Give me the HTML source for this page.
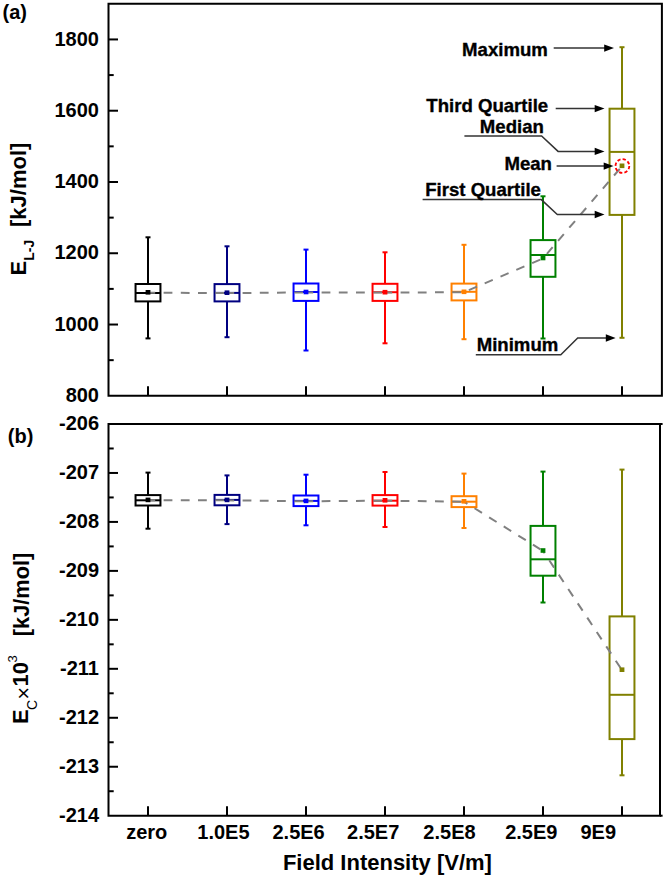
<!DOCTYPE html><html><head><meta charset="utf-8"><style>html,body{margin:0;padding:0;background:#fff;}svg{display:block;font-family:"Liberation Sans",sans-serif;font-weight:bold;}</style></head><body>
<svg width="666" height="878" viewBox="0 0 666 878">
<rect x="0" y="0" width="666" height="878" fill="#fff"/>
<path d="M108.5,3.8 H661.9 V395.8 H108.5 Z" fill="none" stroke="#000" stroke-width="2" stroke-linejoin="miter"/>
<path d="M108.5,424.0 H660.0 V815.7 H108.5 Z" fill="none" stroke="#000" stroke-width="2" stroke-linejoin="miter"/>
<line x1="660.0" y1="424.0" x2="662.6" y2="424.0" stroke="#000" stroke-width="2"/>
<line x1="660.0" y1="815.7" x2="662.6" y2="815.7" stroke="#000" stroke-width="2"/>
<line x1="108.5" y1="360.16" x2="113.7" y2="360.16" stroke="#000" stroke-width="2"/>
<line x1="108.5" y1="324.53" x2="118.0" y2="324.53" stroke="#000" stroke-width="2"/>
<line x1="108.5" y1="288.89" x2="113.7" y2="288.89" stroke="#000" stroke-width="2"/>
<line x1="108.5" y1="253.25" x2="118.0" y2="253.25" stroke="#000" stroke-width="2"/>
<line x1="108.5" y1="217.62" x2="113.7" y2="217.62" stroke="#000" stroke-width="2"/>
<line x1="108.5" y1="181.98" x2="118.0" y2="181.98" stroke="#000" stroke-width="2"/>
<line x1="108.5" y1="146.35" x2="113.7" y2="146.35" stroke="#000" stroke-width="2"/>
<line x1="108.5" y1="110.71" x2="118.0" y2="110.71" stroke="#000" stroke-width="2"/>
<line x1="108.5" y1="75.07" x2="113.7" y2="75.07" stroke="#000" stroke-width="2"/>
<line x1="108.5" y1="39.44" x2="118.0" y2="39.44" stroke="#000" stroke-width="2"/>
<text x="99.0" y="401.90" font-size="20" text-anchor="end">800</text>
<text x="99.0" y="330.63" font-size="20" text-anchor="end">1000</text>
<text x="99.0" y="259.35" font-size="20" text-anchor="end">1200</text>
<text x="99.0" y="188.08" font-size="20" text-anchor="end">1400</text>
<text x="99.0" y="116.81" font-size="20" text-anchor="end">1600</text>
<text x="99.0" y="45.54" font-size="20" text-anchor="end">1800</text>
<line x1="108.5" y1="448.48" x2="113.7" y2="448.48" stroke="#000" stroke-width="2"/>
<line x1="108.5" y1="472.96" x2="118.0" y2="472.96" stroke="#000" stroke-width="2"/>
<line x1="108.5" y1="497.44" x2="113.7" y2="497.44" stroke="#000" stroke-width="2"/>
<line x1="108.5" y1="521.92" x2="118.0" y2="521.92" stroke="#000" stroke-width="2"/>
<line x1="108.5" y1="546.41" x2="113.7" y2="546.41" stroke="#000" stroke-width="2"/>
<line x1="108.5" y1="570.89" x2="118.0" y2="570.89" stroke="#000" stroke-width="2"/>
<line x1="108.5" y1="595.37" x2="113.7" y2="595.37" stroke="#000" stroke-width="2"/>
<line x1="108.5" y1="619.85" x2="118.0" y2="619.85" stroke="#000" stroke-width="2"/>
<line x1="108.5" y1="644.33" x2="113.7" y2="644.33" stroke="#000" stroke-width="2"/>
<line x1="108.5" y1="668.81" x2="118.0" y2="668.81" stroke="#000" stroke-width="2"/>
<line x1="108.5" y1="693.29" x2="113.7" y2="693.29" stroke="#000" stroke-width="2"/>
<line x1="108.5" y1="717.78" x2="118.0" y2="717.78" stroke="#000" stroke-width="2"/>
<line x1="108.5" y1="742.26" x2="113.7" y2="742.26" stroke="#000" stroke-width="2"/>
<line x1="108.5" y1="766.74" x2="118.0" y2="766.74" stroke="#000" stroke-width="2"/>
<line x1="108.5" y1="791.22" x2="113.7" y2="791.22" stroke="#000" stroke-width="2"/>
<text x="99.0" y="430.10" font-size="20" text-anchor="end">-206</text>
<text x="99.0" y="479.06" font-size="20" text-anchor="end">-207</text>
<text x="99.0" y="528.02" font-size="20" text-anchor="end">-208</text>
<text x="99.0" y="576.99" font-size="20" text-anchor="end">-209</text>
<text x="99.0" y="625.95" font-size="20" text-anchor="end">-210</text>
<text x="99.0" y="674.91" font-size="20" text-anchor="end">-211</text>
<text x="99.0" y="723.88" font-size="20" text-anchor="end">-212</text>
<text x="99.0" y="772.84" font-size="20" text-anchor="end">-213</text>
<text x="99.0" y="821.80" font-size="20" text-anchor="end">-214</text>
<line x1="148" y1="395.8" x2="148" y2="386.3" stroke="#000" stroke-width="2"/>
<line x1="148" y1="815.7" x2="148" y2="806.2" stroke="#000" stroke-width="2"/>
<line x1="227" y1="395.8" x2="227" y2="386.3" stroke="#000" stroke-width="2"/>
<line x1="227" y1="815.7" x2="227" y2="806.2" stroke="#000" stroke-width="2"/>
<line x1="306" y1="395.8" x2="306" y2="386.3" stroke="#000" stroke-width="2"/>
<line x1="306" y1="815.7" x2="306" y2="806.2" stroke="#000" stroke-width="2"/>
<line x1="385" y1="395.8" x2="385" y2="386.3" stroke="#000" stroke-width="2"/>
<line x1="385" y1="815.7" x2="385" y2="806.2" stroke="#000" stroke-width="2"/>
<line x1="464" y1="395.8" x2="464" y2="386.3" stroke="#000" stroke-width="2"/>
<line x1="464" y1="815.7" x2="464" y2="806.2" stroke="#000" stroke-width="2"/>
<line x1="543" y1="395.8" x2="543" y2="386.3" stroke="#000" stroke-width="2"/>
<line x1="543" y1="815.7" x2="543" y2="806.2" stroke="#000" stroke-width="2"/>
<line x1="622" y1="395.8" x2="622" y2="386.3" stroke="#000" stroke-width="2"/>
<line x1="622" y1="815.7" x2="622" y2="806.2" stroke="#000" stroke-width="2"/>
<text x="146.75" y="839" font-size="20" text-anchor="middle">zero</text>
<text x="223.4" y="839" font-size="20" text-anchor="middle">1.0E5</text>
<text x="298.6" y="839" font-size="20" text-anchor="middle">2.5E6</text>
<text x="373.2" y="839" font-size="20" text-anchor="middle">2.5E7</text>
<text x="449.5" y="839" font-size="20" text-anchor="middle">2.5E8</text>
<text x="531.3" y="839" font-size="20" text-anchor="middle">2.5E9</text>
<text x="598.3" y="839" font-size="20" text-anchor="middle">9E9</text>
<text x="387.4" y="869.5" font-size="22" text-anchor="middle">Field Intensity [V/m]</text>
<text x="2.5" y="18.5" font-size="20">(a)</text>
<text x="7.8" y="442.5" font-size="20">(b)</text>
<text transform="translate(26.0,275.4) rotate(-90)" font-size="22" font-weight="bold" >E</text>
<text transform="translate(33.5,260.8) rotate(-90)" font-size="14" font-weight="bold" >L-J</text>
<text transform="translate(26.0,227.0) rotate(-90)" font-size="22" font-weight="bold" >[kJ/mol]</text>
<text transform="translate(28.0,724.0) rotate(-90)" font-size="22" font-weight="bold" >E</text>
<text transform="translate(36.7,710.0) rotate(-90)" font-size="14" font-weight="normal" >C</text>
<text transform="translate(30.8,699.5) rotate(-90)" font-size="21.5" font-weight="normal" >&#215;</text>
<text transform="translate(28.0,686.4) rotate(-90)" font-size="22" font-weight="bold" >10</text>
<text transform="translate(16.6,662.5) rotate(-90)" font-size="13" font-weight="normal" >3</text>
<text transform="translate(28.5,636.2) rotate(-90)" font-size="21.8" font-weight="bold" >[kJ/mol]</text>
<g stroke="#000000" stroke-width="2" fill="none"><line x1="148" y1="237.3" x2="148" y2="284.0"/><line x1="148" y1="301.4" x2="148" y2="338.4"/><line x1="145.5" y1="237.3" x2="150.5" y2="237.3"/><line x1="145.5" y1="338.4" x2="150.5" y2="338.4"/><rect x="135.55" y="284.0" width="24.9" height="17.40"/><line x1="135.55" y1="293.0" x2="160.45" y2="293.0"/></g>
<g stroke="#000080" stroke-width="2" fill="none"><line x1="227" y1="246.3" x2="227" y2="284.1"/><line x1="227" y1="301.4" x2="227" y2="337.2"/><line x1="224.5" y1="246.3" x2="229.5" y2="246.3"/><line x1="224.5" y1="337.2" x2="229.5" y2="337.2"/><rect x="214.55" y="284.1" width="24.9" height="17.30"/><line x1="214.55" y1="292.9" x2="239.45" y2="292.9"/></g>
<g stroke="#0000ff" stroke-width="2" fill="none"><line x1="306" y1="249.6" x2="306" y2="283.5"/><line x1="306" y1="300.9" x2="306" y2="350.5"/><line x1="303.5" y1="249.6" x2="308.5" y2="249.6"/><line x1="303.5" y1="350.5" x2="308.5" y2="350.5"/><rect x="293.55" y="283.5" width="24.9" height="17.40"/><line x1="293.55" y1="292.0" x2="318.45" y2="292.0"/></g>
<g stroke="#ff0000" stroke-width="2" fill="none"><line x1="385" y1="252.3" x2="385" y2="283.8"/><line x1="385" y1="300.9" x2="385" y2="343.3"/><line x1="382.5" y1="252.3" x2="387.5" y2="252.3"/><line x1="382.5" y1="343.3" x2="387.5" y2="343.3"/><rect x="372.55" y="283.8" width="24.9" height="17.10"/><line x1="372.55" y1="292.2" x2="397.45" y2="292.2"/></g>
<g stroke="#ff8000" stroke-width="2" fill="none"><line x1="464" y1="244.8" x2="464" y2="283.6"/><line x1="464" y1="300.4" x2="464" y2="339.2"/><line x1="461.5" y1="244.8" x2="466.5" y2="244.8"/><line x1="461.5" y1="339.2" x2="466.5" y2="339.2"/><rect x="451.55" y="283.6" width="24.9" height="16.80"/><line x1="451.55" y1="291.8" x2="476.45" y2="291.8"/></g>
<g stroke="#008000" stroke-width="2" fill="none"><line x1="543" y1="196.3" x2="543" y2="240.1"/><line x1="543" y1="276.8" x2="543" y2="338.5"/><line x1="540.5" y1="196.3" x2="545.5" y2="196.3"/><line x1="540.5" y1="338.5" x2="545.5" y2="338.5"/><rect x="530.55" y="240.1" width="24.9" height="36.70"/><line x1="530.55" y1="255.0" x2="555.45" y2="255.0"/></g>
<g stroke="#808000" stroke-width="2" fill="none"><line x1="622" y1="47.2" x2="622" y2="108.7"/><line x1="622" y1="214.9" x2="622" y2="337.8"/><line x1="619.5" y1="47.2" x2="624.5" y2="47.2"/><line x1="619.5" y1="337.8" x2="624.5" y2="337.8"/><rect x="609.55" y="108.7" width="24.9" height="106.20"/><line x1="609.55" y1="151.9" x2="634.45" y2="151.9"/></g>
<g stroke="#808080" stroke-width="2" stroke-dasharray="8.8,8.4">
<line x1="148" y1="292.7" x2="227" y2="293.09999999999997" stroke-dashoffset="1.6"/>
<line x1="227" y1="293.09999999999997" x2="306" y2="292.4" stroke-dashoffset="1.6"/>
<line x1="306" y1="292.4" x2="385" y2="292.59999999999997" stroke-dashoffset="1.6"/>
<line x1="385" y1="292.59999999999997" x2="464" y2="292.2" stroke-dashoffset="1.6"/>
<line x1="464" y1="292.2" x2="543" y2="258.4" stroke-dashoffset="11.9"/>
<line x1="543" y1="258.4" x2="622" y2="166.20000000000002" stroke-dashoffset="11.2"/>
</g>
<rect x="145.6" y="290.0" width="4.8" height="4.6" fill="#000000"/>
<rect x="224.6" y="290.4" width="4.8" height="4.6" fill="#000080"/>
<rect x="303.6" y="289.7" width="4.8" height="4.6" fill="#0000ff"/>
<rect x="382.6" y="289.9" width="4.8" height="4.6" fill="#ff0000"/>
<rect x="461.6" y="289.5" width="4.8" height="4.6" fill="#ff8000"/>
<rect x="540.6" y="255.7" width="4.8" height="4.6" fill="#008000"/>
<rect x="619.6" y="163.5" width="4.8" height="4.6" fill="#808000"/>
<g stroke="#000000" stroke-width="2" fill="none"><line x1="148" y1="472.6" x2="148" y2="495.1"/><line x1="148" y1="505.5" x2="148" y2="528.7"/><line x1="145.5" y1="472.6" x2="150.5" y2="472.6"/><line x1="145.5" y1="528.7" x2="150.5" y2="528.7"/><rect x="135.55" y="495.1" width="24.9" height="10.40"/><line x1="135.55" y1="500.3" x2="160.45" y2="500.3"/></g>
<g stroke="#000080" stroke-width="2" fill="none"><line x1="227" y1="475.4" x2="227" y2="494.9"/><line x1="227" y1="505.3" x2="227" y2="524.1"/><line x1="224.5" y1="475.4" x2="229.5" y2="475.4"/><line x1="224.5" y1="524.1" x2="229.5" y2="524.1"/><rect x="214.55" y="494.9" width="24.9" height="10.40"/><line x1="214.55" y1="499.9" x2="239.45" y2="499.9"/></g>
<g stroke="#0000ff" stroke-width="2" fill="none"><line x1="306" y1="474.7" x2="306" y2="495.5"/><line x1="306" y1="506.1" x2="306" y2="525.3"/><line x1="303.5" y1="474.7" x2="308.5" y2="474.7"/><line x1="303.5" y1="525.3" x2="308.5" y2="525.3"/><rect x="293.55" y="495.5" width="24.9" height="10.60"/><line x1="293.55" y1="500.9" x2="318.45" y2="500.9"/></g>
<g stroke="#ff0000" stroke-width="2" fill="none"><line x1="385" y1="472.0" x2="385" y2="495.1"/><line x1="385" y1="505.6" x2="385" y2="527.0"/><line x1="382.5" y1="472.0" x2="387.5" y2="472.0"/><line x1="382.5" y1="527.0" x2="387.5" y2="527.0"/><rect x="372.55" y="495.1" width="24.9" height="10.50"/><line x1="372.55" y1="500.7" x2="397.45" y2="500.7"/></g>
<g stroke="#ff8000" stroke-width="2" fill="none"><line x1="464" y1="473.6" x2="464" y2="496.2"/><line x1="464" y1="507.1" x2="464" y2="528.0"/><line x1="461.5" y1="473.6" x2="466.5" y2="473.6"/><line x1="461.5" y1="528.0" x2="466.5" y2="528.0"/><rect x="451.55" y="496.2" width="24.9" height="10.90"/><line x1="451.55" y1="501.7" x2="476.45" y2="501.7"/></g>
<g stroke="#008000" stroke-width="2" fill="none"><line x1="543" y1="471.6" x2="543" y2="525.9"/><line x1="543" y1="575.7" x2="543" y2="602.5"/><line x1="540.5" y1="471.6" x2="545.5" y2="471.6"/><line x1="540.5" y1="602.5" x2="545.5" y2="602.5"/><rect x="530.55" y="525.9" width="24.9" height="49.80"/><line x1="530.55" y1="559.3" x2="555.45" y2="559.3"/></g>
<g stroke="#808000" stroke-width="2" fill="none"><line x1="622" y1="469.6" x2="622" y2="616.4"/><line x1="622" y1="739.1" x2="622" y2="775.3"/><line x1="619.5" y1="469.6" x2="624.5" y2="469.6"/><line x1="619.5" y1="775.3" x2="624.5" y2="775.3"/><rect x="609.55" y="616.4" width="24.9" height="122.70"/><line x1="609.55" y1="694.8" x2="634.45" y2="694.8"/></g>
<g stroke="#808080" stroke-width="2" stroke-dasharray="8.8,8.4">
<line x1="148" y1="500.29999999999995" x2="227" y2="500.29999999999995" stroke-dashoffset="1.6"/>
<line x1="227" y1="500.29999999999995" x2="306" y2="501.29999999999995" stroke-dashoffset="1.6"/>
<line x1="306" y1="501.29999999999995" x2="385" y2="500.7" stroke-dashoffset="1.6"/>
<line x1="385" y1="500.7" x2="464" y2="501.7" stroke-dashoffset="1.6"/>
<line x1="464" y1="501.7" x2="543" y2="550.9" stroke-dashoffset="4.8"/>
<line x1="543" y1="550.9" x2="622" y2="670.1" stroke-dashoffset="5.9"/>
</g>
<rect x="145.6" y="497.59999999999997" width="4.8" height="4.6" fill="#000000"/>
<rect x="224.6" y="497.59999999999997" width="4.8" height="4.6" fill="#000080"/>
<rect x="303.6" y="498.59999999999997" width="4.8" height="4.6" fill="#0000ff"/>
<rect x="382.6" y="498.0" width="4.8" height="4.6" fill="#ff0000"/>
<rect x="461.6" y="499.0" width="4.8" height="4.6" fill="#ff8000"/>
<rect x="540.6" y="548.2" width="4.8" height="4.6" fill="#008000"/>
<rect x="619.6" y="667.4000000000001" width="4.8" height="4.6" fill="#808000"/>
<circle cx="622.4" cy="166.0" r="6.9" fill="none" stroke="#ff0000" stroke-width="1.8" stroke-dasharray="3.3,2.12"/>
<g stroke="#333" stroke-width="1.5" fill="none">
<line x1="553.7" y1="48.1" x2="606" y2="48.1"/>
<line x1="555.7" y1="108.6" x2="596" y2="108.6"/>
<polyline points="464.4,136 541.6,136 558.1,151.4 596,151.4"/>
<line x1="556.6" y1="166.1" x2="605" y2="166.1"/>
<polyline points="422.6,199.6 541.3,199.6 557.3,214.5 596,214.5"/>
<polyline points="475.8,354.7 560.8,354.7 577.7,338.0 607,338.0"/>
</g>
<path d="M614.0,48.1 L604.2,44.4 L604.2,51.800000000000004 Z" fill="#000"/>
<path d="M604.5,108.6 L594.7,104.89999999999999 L594.7,112.3 Z" fill="#000"/>
<path d="M604.5,151.4 L594.7,147.70000000000002 L594.7,155.1 Z" fill="#000"/>
<path d="M613.5,166.1 L603.7,162.4 L603.7,169.79999999999998 Z" fill="#000"/>
<path d="M604.5,214.5 L594.7,210.8 L594.7,218.2 Z" fill="#000"/>
<path d="M615.6,338.0 L605.8000000000001,334.3 L605.8000000000001,341.7 Z" fill="#000"/>
<g stroke="#000" stroke-width="0.35">
<text x="462.1" y="55.8" font-size="18.6">Maximum</text>
<text x="426.3" y="111.5" font-size="18.6">Third Quartile</text>
<text x="479.8" y="132.5" font-size="18.6">Median</text>
<text x="504.4" y="170.3" font-size="18.6">Mean</text>
<text x="425.2" y="195.8" font-size="18.6">First Quartile</text>
<text x="476.7" y="350.5" font-size="18.6">Minimum</text>
</g>
</svg></body></html>
